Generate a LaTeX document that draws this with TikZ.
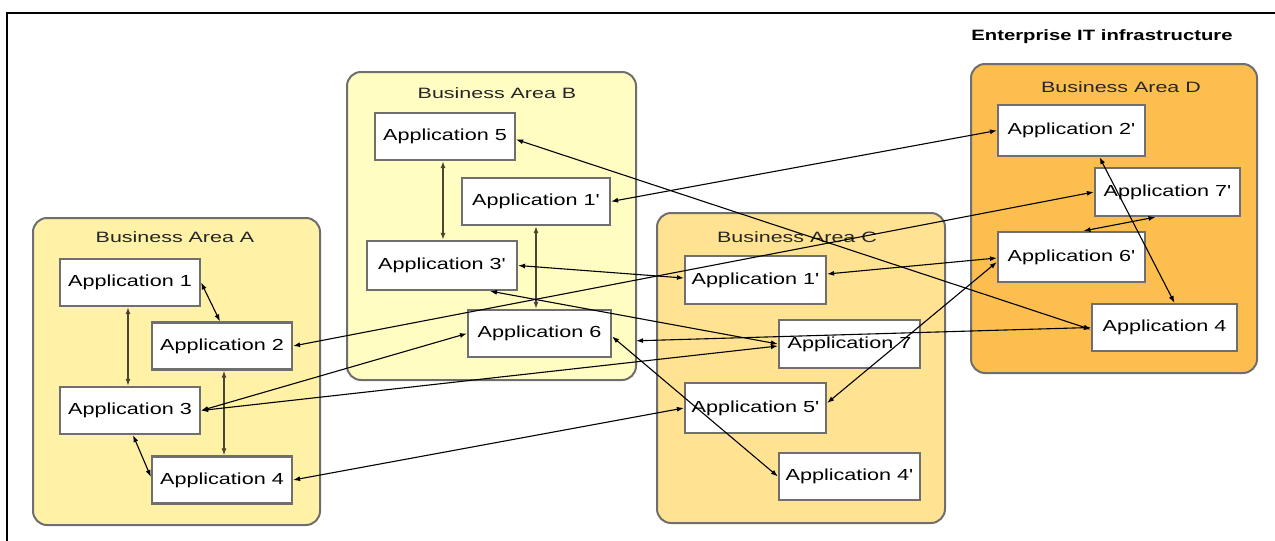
\documentclass[tikz,border=0pt]{standalone}
\usepackage{fontspec}
\setmainfont{Liberation Sans}
\newfontfamily\appf[FakeStretch=1.35]{Liberation Sans}
\newfontfamily\ttlf[FakeStretch=1.43]{Liberation Sans}
\usetikzlibrary{arrows.meta}
\definecolor{areaA}{HTML}{FFF1A6}
\definecolor{areaB}{HTML}{FFFDC2}
\definecolor{areaC}{HTML}{FFE392}
\definecolor{areaD}{HTML}{FCBE4E}
\definecolor{areaborder}{HTML}{6E6E6E}
\definecolor{boxborder}{HTML}{6F6F6F}
\definecolor{intra}{HTML}{4A4632}
\tikzset{
  area/.style={draw=areaborder, line width=2pt, rounded corners=14pt, inner sep=0pt},
  areatitle/.style={text=black!85, font=\ttlf\fontsize{15}{17}\selectfont, inner sep=0pt},
  app/.style={draw=boxborder, fill=white, line width=2.2pt, inner sep=0pt,
    minimum width=140pt, minimum height=47pt, font=\appf\fontsize{16}{18}\selectfont},
  tip/.tip={Latex[length=7pt,width=5pt]},
  link/.style={line width=1.1pt, black, tip-tip},
  intralink/.style={line width=2pt, intra, tip-tip},
}
\begin{document}
\begin{tikzpicture}[x=1pt,y=-1pt]
\useasboundingbox (0,0) rectangle (1275,541);
% outer frame
\draw[line width=2pt] (7,541) -- (7,13) -- (1275,13);
\node[font=\appf\bfseries\fontsize{15}{17}\selectfont, inner sep=0pt] (title) at (1102,37) {Enterprise IT infrastructure};

% areas
\node[area, fill=areaA, minimum width=287pt, minimum height=307pt] (A) at (176.5,371.5) {};
\node[area, fill=areaB, minimum width=289pt, minimum height=308pt] (B) at (491.5,226) {};
\node[area, fill=areaC, minimum width=288pt, minimum height=310pt] (C) at (801,368) {};
\node[area, fill=areaD, minimum width=286pt, minimum height=309pt] (D) at (1114,218.5) {};
\node[areatitle] (tA) at (175,237) {Business Area A};
\node[areatitle] (tB) at (497,93) {Business Area B};
\node[areatitle] (tC) at (797,237) {Business Area C};
\node[areatitle] (tD) at (1121,87) {Business Area D};

% applications
\node[app] (a1) at (130,282.5) {Application 1};
\node[app] (a2) at (222,346) {Application 2};
\node[app] (a3) at (130,410.5) {Application 3};
\node[app] (a4) at (222,480) {Application 4};

\node[app] (b5) at (445,136.5) {Application 5};
\node[app, minimum width=148pt] (b1p) at (536,201.5) {Application 1'};
\node[app, minimum width=150pt, minimum height=49pt] (b3p) at (442,265.5) {Application 3'};
\node[app, minimum width=143pt] (b6) at (539.5,333.5) {Application 6};

\node[app, minimum width=141pt, minimum height=48pt] (c1p) at (755.5,280) {Application 1'};
\node[app, minimum width=141pt, minimum height=48pt] (c7) at (849.5,344) {Application 7};
\node[app, minimum width=141pt, minimum height=50pt] (c5p) at (755.5,408) {Application 5'};
\node[app, minimum width=141pt] (c4p) at (849.5,476.5) {Application 4'};

\node[app, minimum width=147pt, minimum height=51pt] (d2p) at (1071.5,130.5) {Application 2'};
\node[app, minimum width=145pt, minimum height=48pt] (d7p) at (1167.5,192) {Application 7'};
\node[app, minimum width=147pt, minimum height=50pt] (d6p) at (1071.5,257) {Application 6'};
\node[app, minimum width=145pt] (d4) at (1164.5,327.5) {Application 4};

% connectors inside areas
\draw[intralink] ([xshift=-2pt]a1.south) -- ([xshift=-2pt]a3.north);
\draw[link] (a1.east) -- ([xshift=-2pt]a2.north);
\draw[intralink] ([xshift=2pt]a2.south) -- ([xshift=2pt]a4.north);
\draw[link] ([xshift=3pt]a3.south) -- ([yshift=3pt]a4.west);
\draw[intralink] ([xshift=-2pt]b5.south) -- ([xshift=-2pt]b5.south |- b3p.north);
\draw[intralink] (b1p.south) -- (b1p.south |- b6.north);
\draw[link] ([xshift=12pt]d6p.north) -- ([xshift=-12pt]d7p.south);
\draw[link] ([xshift=28pt]d2p.south) -- ([xshift=10pt]d4.north);

% cross connectors
\draw[link] (b1p.east) -- (d2p.west);
\draw[link] ([yshift=-3pt]b5.east) -- ([yshift=-2pt]d4.west);
\draw[link] (b3p.east) -- ([yshift=2pt]c1p.west);
\draw[link] ([xshift=48pt]b3p.south) -- (c7.west);
\draw[link] (a2.east) -- (d7p.west);
\draw[link] (a3.east) -- (b6.west);
\draw[link] (a3.east) -- ([yshift=-2pt]c7.west);
\draw[link] (a4.east) -- (c5p.west);
\draw[link] ([yshift=-3pt]b6.east) -- (c4p.west);
\draw[link, shorten <=24pt] ([yshift=-8pt]b6.east) -- (d4.west);
\draw[link] ([yshift=6pt]c1p.east) -- ([yshift=-1pt]d6p.west);
\draw[link] ([yshift=5pt]c5p.east) -- ([yshift=-5pt]d6p.west);
\end{tikzpicture}
\end{document}
